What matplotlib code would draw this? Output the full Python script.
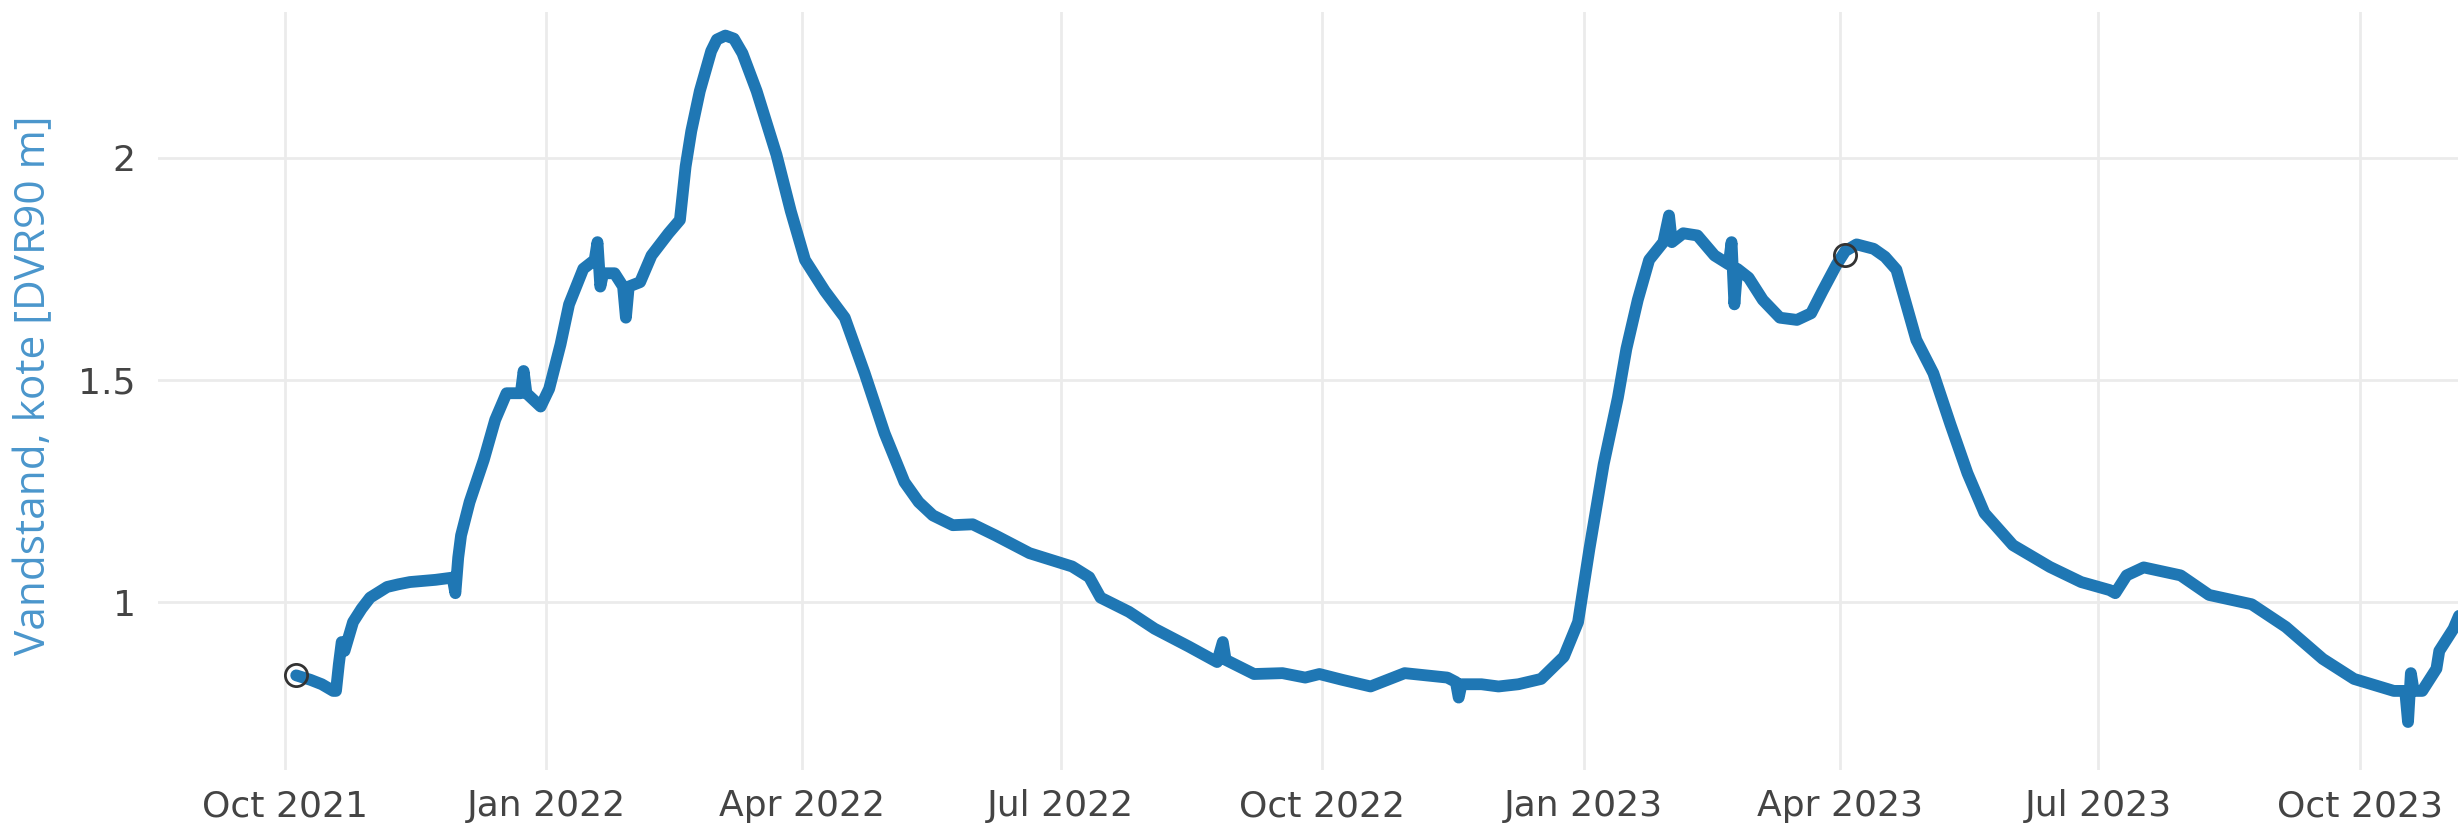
import matplotlib
matplotlib.use("Agg")
import matplotlib.pyplot as plt
import pandas as pd

# ---- data ----
dates = [
    "2021-10-05", "2021-10-10", "2021-10-14", "2021-10-18", "2021-10-19", "2021-10-20",
    "2021-10-21", "2021-10-22", "2021-10-25", "2021-10-28", "2021-10-31", "2021-11-03",
    "2021-11-06", "2021-11-10", "2021-11-14",
    "2021-11-23", "2021-11-29", "2021-11-30", "2021-12-01", "2021-12-02", "2021-12-05",
    "2021-12-10", "2021-12-14", "2021-12-18", "2021-12-23", "2021-12-24", "2021-12-25",
    "2021-12-30", "2022-01-02", "2022-01-06", "2022-01-09", "2022-01-14", "2022-01-18",
    "2022-01-19", "2022-01-20", "2022-01-21", "2022-01-25", "2022-01-28", "2022-01-29",
    "2022-01-30", "2022-02-03", "2022-02-07", "2022-02-13", "2022-02-17", "2022-02-19",
    "2022-02-21", "2022-02-24", "2022-02-28", "2022-03-02", "2022-03-05", "2022-03-08",
    "2022-03-11", "2022-03-16", "2022-03-23", "2022-03-28", "2022-04-02", "2022-04-09",
    "2022-04-16", "2022-04-23", "2022-04-30", "2022-05-07", "2022-05-12", "2022-05-17",
    "2022-05-24", "2022-05-31",
    "2022-06-08", "2022-06-20", "2022-06-30", "2022-07-05", "2022-07-11", "2022-07-15",
    "2022-07-25", "2022-08-03", "2022-08-15", "2022-08-25", "2022-08-27", "2022-08-28",
    "2022-09-07", "2022-09-17", "2022-09-25", "2022-09-30", "2022-10-08", "2022-10-18",
    "2022-10-30", "2022-11-14", "2022-11-17", "2022-11-18", "2022-11-19", "2022-11-26",
    "2022-12-02", "2022-12-09", "2022-12-17", "2022-12-25", "2022-12-30", "2023-01-03",
    "2023-01-08", "2023-01-13", "2023-01-16", "2023-01-20", "2023-01-24", "2023-01-29",
    "2023-01-31", "2023-02-01", "2023-02-05", "2023-02-10", "2023-02-16", "2023-02-21",
    "2023-02-22", "2023-02-23", "2023-02-24", "2023-02-28", "2023-03-05", "2023-03-11",
    "2023-03-17", "2023-03-22", "2023-03-26", "2023-03-31", "2023-04-03", "2023-04-07",
    "2023-04-13", "2023-04-17", "2023-04-21", "2023-04-28", "2023-05-04", "2023-05-10",
    "2023-05-16", "2023-05-22", "2023-06-01", "2023-06-14", "2023-06-25", "2023-07-05",
    "2023-07-07", "2023-07-11", "2023-07-17", "2023-07-30", "2023-08-09", "2023-08-24",
    "2023-09-05", "2023-09-18", "2023-09-29", "2023-10-13", "2023-10-17", "2023-10-18",
    "2023-10-19", "2023-10-20", "2023-10-23", "2023-10-28", "2023-10-29", "2023-11-03",
    "2023-11-05",
]
levels = [
    0.835, 0.825, 0.815, 0.800, 0.800, 0.860,
    0.910, 0.890, 0.955, 0.985, 1.010, 1.022,
    1.034, 1.040, 1.045,
    1.050, 1.055, 1.020, 1.100, 1.150, 1.225,
    1.320, 1.410, 1.470, 1.470, 1.520, 1.470,
    1.440, 1.480, 1.580, 1.670, 1.750, 1.770,
    1.810, 1.710, 1.740, 1.740, 1.710, 1.640,
    1.710, 1.720, 1.780, 1.830, 1.860, 1.980,
    2.060, 2.150, 2.240, 2.266, 2.275, 2.268,
    2.235, 2.150, 2.006, 1.880, 1.770, 1.700,
    1.640, 1.515, 1.380, 1.270, 1.225, 1.195,
    1.173, 1.175,
    1.150, 1.110, 1.090, 1.080, 1.056, 1.010,
    0.978, 0.940, 0.900, 0.865, 0.910, 0.870,
    0.838, 0.840, 0.830, 0.838, 0.825, 0.810,
    0.840, 0.830, 0.820, 0.785, 0.815, 0.815,
    0.810, 0.815, 0.827, 0.877, 0.955, 1.120,
    1.310, 1.460, 1.570, 1.680, 1.770, 1.810,
    1.870, 1.810, 1.830, 1.825, 1.780, 1.760,
    1.810, 1.670, 1.750, 1.730, 1.680, 1.640,
    1.635, 1.650, 1.700, 1.760, 1.790, 1.805,
    1.795, 1.777, 1.748, 1.590, 1.515, 1.400,
    1.290, 1.200, 1.128, 1.079, 1.045, 1.027,
    1.020, 1.060, 1.078, 1.060, 1.016, 0.995,
    0.944, 0.872, 0.827, 0.800, 0.800, 0.730,
    0.840, 0.800, 0.800, 0.850, 0.890, 0.940,
    0.970,
]
marker_dates = ["2021-10-05", "2023-04-03"]
marker_levels = [0.835, 1.782]

y_ticks = [1, 1.5, 2]
y_tick_labels = ["1", "1.5", "2"]
x_tick_dates = ["2021-10-01", "2022-01-01", "2022-04-01", "2022-07-01", "2022-10-01",
                "2023-01-01", "2023-04-01", "2023-07-01", "2023-10-01"]
x_tick_labels = ["Oct 2021", "Jan 2022", "Apr 2022", "Jul 2022", "Oct 2022",
                 "Jan 2023", "Apr 2023", "Jul 2023", "Oct 2023"]
y_label = "Vandstand, kote [DVR90 m]"

# ---- figure ----
W, H, DPI = 2458, 836, 100
fig = plt.figure(figsize=(W / DPI, H / DPI), dpi=DPI)
ax = fig.add_axes([158 / W, 1 - 770 / H, 1 - 158 / W, (770 - 12) / H])

x = pd.to_datetime(dates)
ax.plot(x, levels, color="#1f77b4", lw=8.5, solid_joinstyle="round",
        solid_capstyle="round", zorder=3)
ax.plot(pd.to_datetime(marker_dates), marker_levels, ls="none", marker="o",
        ms=16, mfc="none", mec="#333333", mew=2.0, zorder=4)

ax.set_xlim(pd.Timestamp("2021-08-17 09:00"), pd.Timestamp("2023-11-04 14:00"))
ax.set_ylim(0.622, 2.328)

ax.set_yticks(y_ticks)
ax.set_yticklabels(y_tick_labels)
ax.set_xticks(pd.to_datetime(x_tick_dates))
ax.set_xticklabels(x_tick_labels)

ax.grid(True, color="#ebebeb", lw=2)
ax.set_axisbelow(True)
for s in ax.spines.values():
    s.set_visible(False)
ax.tick_params(axis="both", length=0, labelsize=26, labelcolor="#444444")
ax.tick_params(axis="y", pad=16)
ax.tick_params(axis="x", pad=14)
for lab in ax.get_xticklabels() + ax.get_yticklabels():
    lab.set_family("DejaVu Sans")

t = fig.text(34 / W, 1 - 385 / H, y_label, rotation=90, ha="center", va="center",
             color="#4a96cc", family=["Open Sans", "DejaVu Sans"],
             fontweight="normal", fontsize=28)
# fit label length to reference (~540 px)
fig.canvas.draw()
bb = t.get_window_extent(fig.canvas.get_renderer())
t.set_fontsize(28 * 540 / bb.height)

fig.savefig("out.png", dpi=DPI, facecolor="white")
